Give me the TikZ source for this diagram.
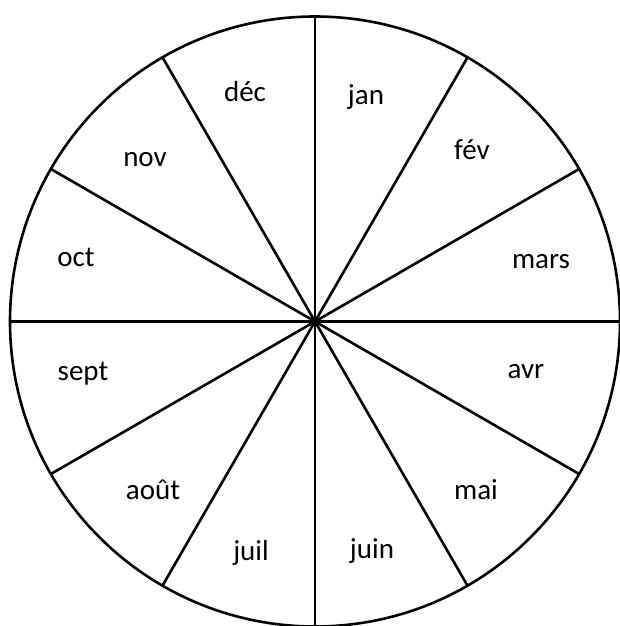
\documentclass[tikz,border=0pt]{standalone}
\usepackage{fontspec}
\setmainfont{Carlito}
\usetikzlibrary{positioning}

\begin{document}
\begin{tikzpicture}[
  x=1pt, y=-1pt,
  wheel/.style={draw, line width=2.6pt},
  spoke/.style={draw, line width=2.6pt},
  month/.style={font=\fontsize{29}{30}\selectfont, inner sep=0pt, anchor=center},
]
  % Page frame
  \useasboundingbox (0,0) rectangle (620,626);

  % Circle centre and radius
  \def\cx{315}
  \def\cy{321.5}
  \def\rad{305}
  \coordinate (c) at (\cx,\cy);

  % Outer circle
  \draw[wheel] (c) circle[radius=\rad];

  % Twelve spokes, every 30 degrees
  \foreach \a in {0,30,...,330}
    \draw[spoke] (c) -- ++(\a:\rad);

  % Month labels
  \node[month] (jan)  at (366, 97)  {jan};
  \node[month] (fev)  at (472, 150) {fév};
  \node[month] (mars) at (541, 262) {mars};
  \node[month] (avr)  at (526, 372) {avr};
  \node[month] (mai)  at (476, 490) {mai};
  \node[month] (juin) at (372, 551) {juin};
  \node[month] (juil) at (251, 553) {juil};
  \node[month] (aout) at (153, 490) {août};
  \node[month] (sept) at (83, 374)  {sept};
  \node[month] (oct)  at (76, 257)  {oct};
  \node[month] (nov)  at (145, 160) {nov};
  \node[month] (dec)  at (245, 92)  {déc};

\end{tikzpicture}
\end{document}
